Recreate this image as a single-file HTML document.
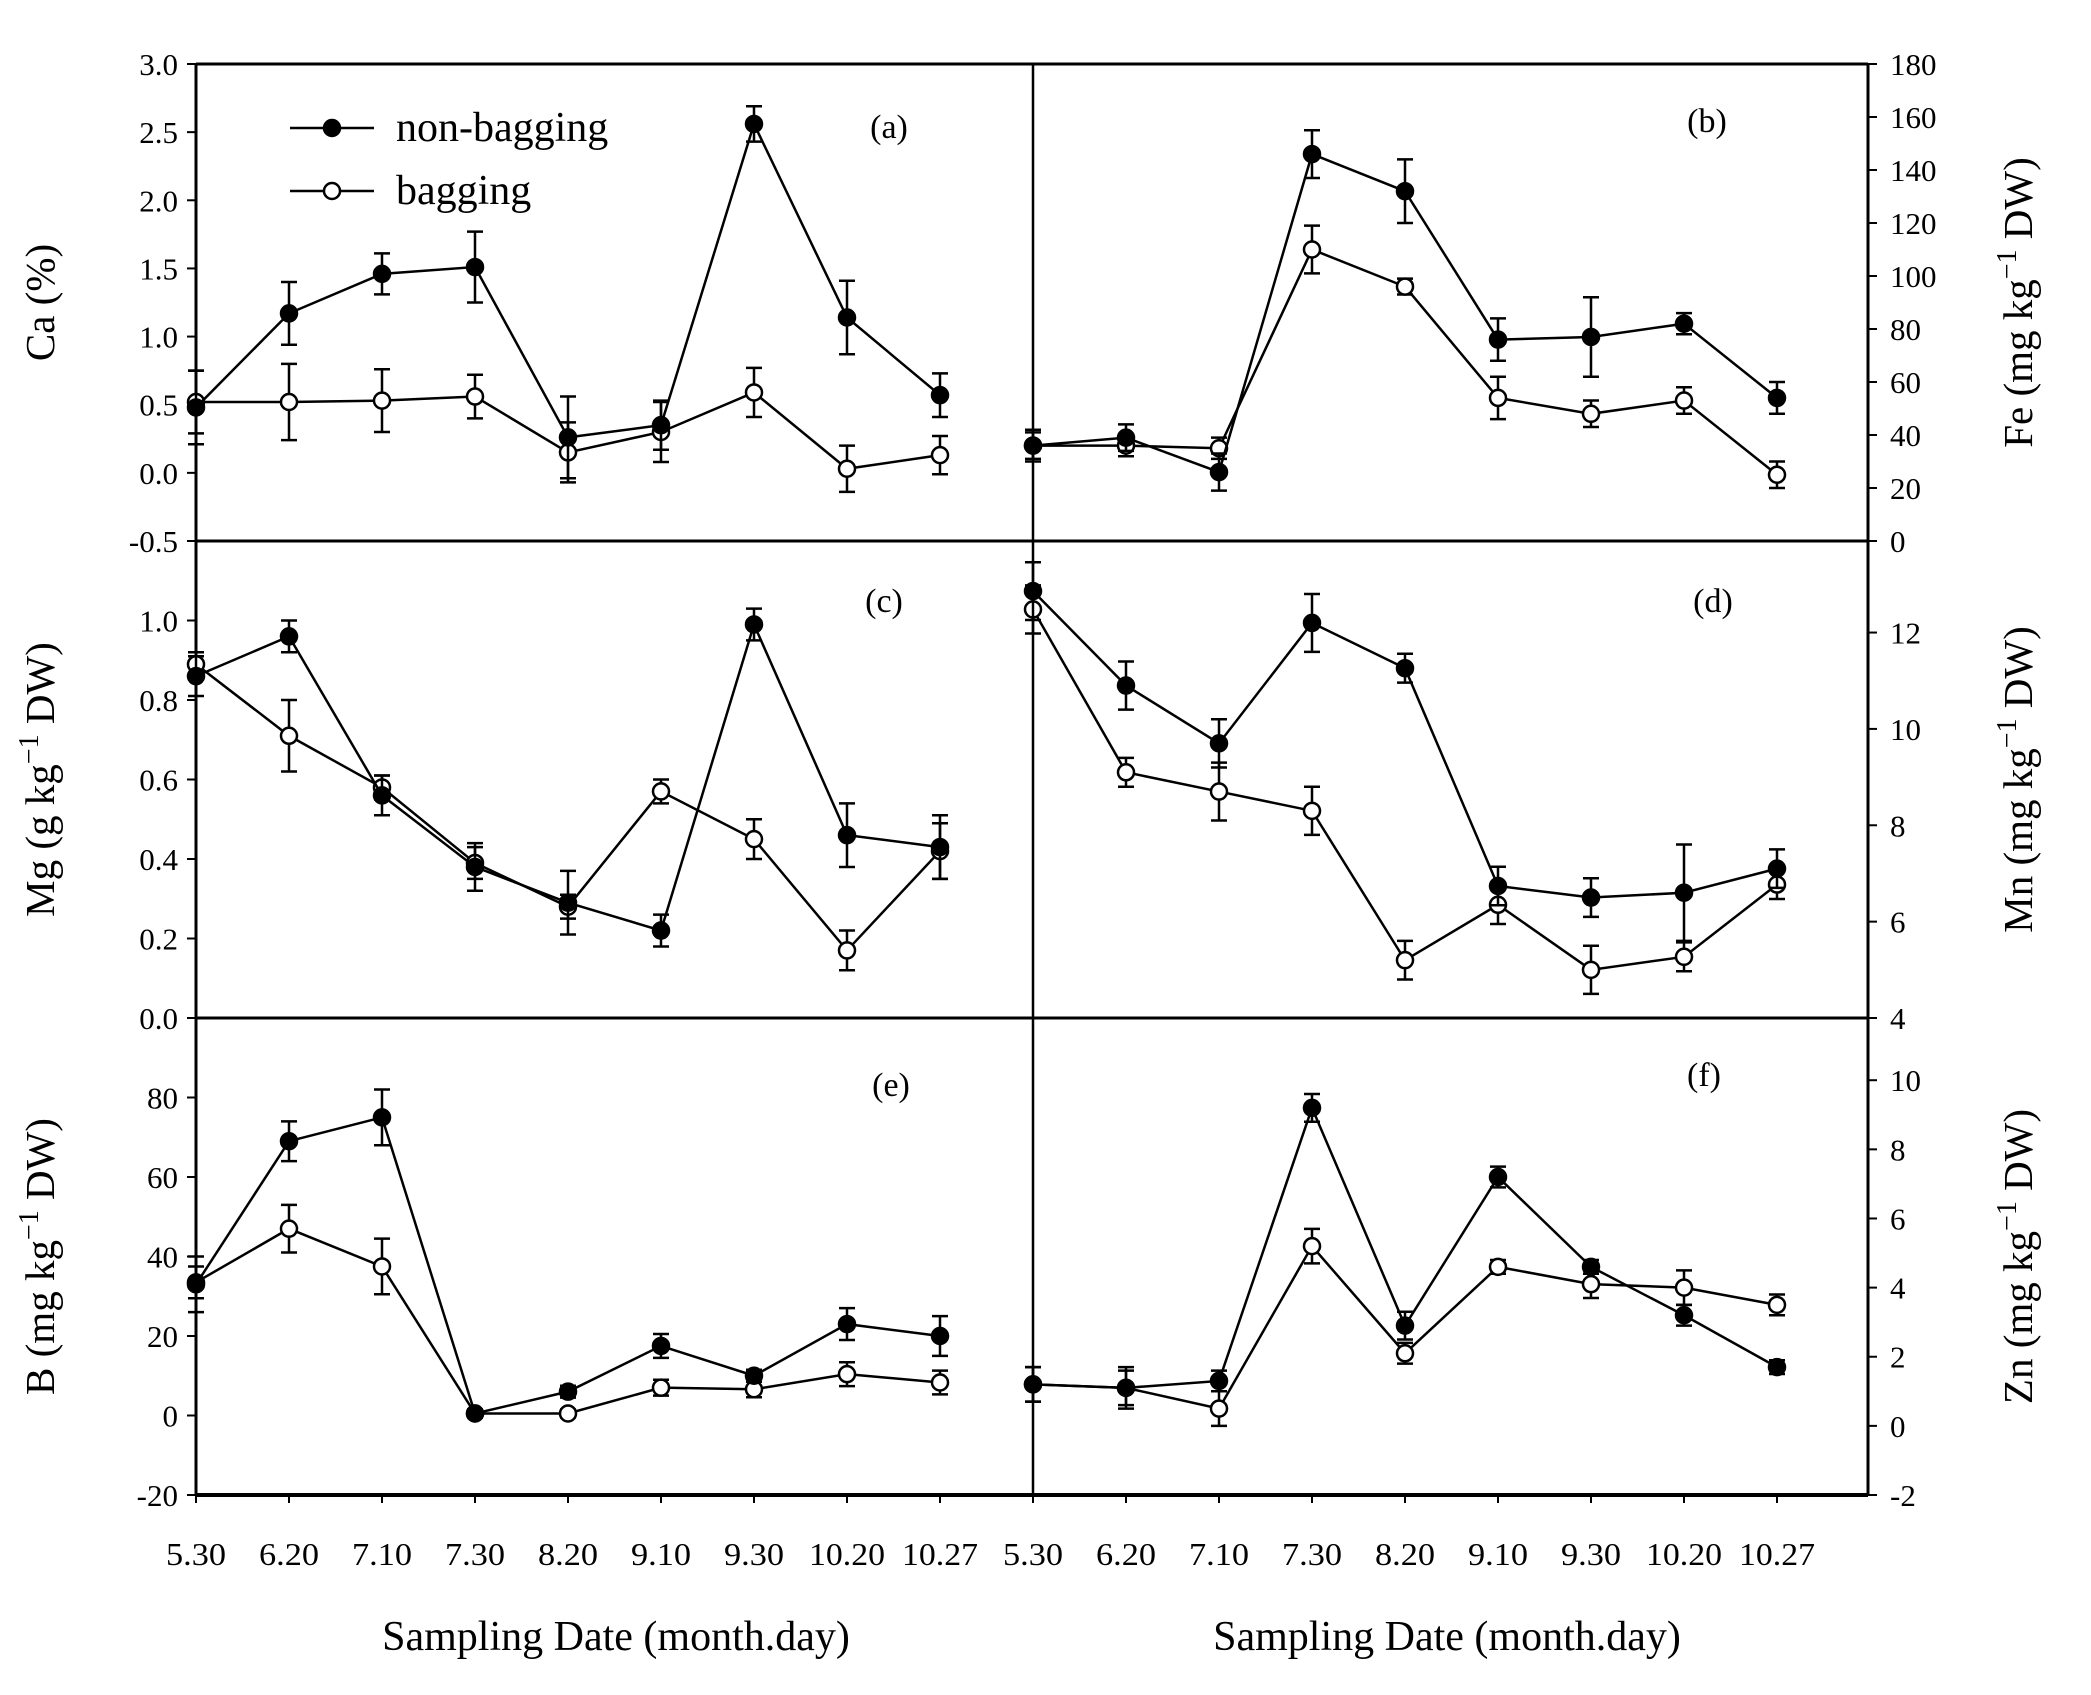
<!DOCTYPE html>
<html><head><meta charset="utf-8"><style>
html,body{margin:0;padding:0;background:#fff}
svg{display:block;font-family:"Liberation Serif",serif}
</style></head><body>
<svg id="chart" width="2091" height="1695" viewBox="0 0 2091 1695" xmlns="http://www.w3.org/2000/svg"></svg>
<script>
const dates = ["5.30","6.20","7.10","7.30","8.20","9.10","9.30","10.20","10.27"];
const caNon = [0.48,1.17,1.46,1.51,0.26,0.35,2.56,1.14,0.57];
const caNonErr = [0.27,0.23,0.15,0.26,0.30,0.18,0.13,0.27,0.16];
const caBag = [0.52,0.52,0.53,0.56,0.15,0.30,0.59,0.03,0.13];
const caBagErr = [0.23,0.28,0.23,0.16,0.22,0.22,0.18,0.17,0.14];
const feNon = [36,39,26,146,132,76,77,82,54];
const feNonErr = [6,5,7,9,12,8,15,4,6];
const feBag = [36,36,35,110,96,54,48,53,25];
const feBagErr = [5,4,4,9,3,8,5,5,5];
const mgNon = [0.86,0.96,0.56,0.38,0.29,0.22,0.99,0.46,0.43];
const mgNonErr = [0.05,0.04,0.05,0.06,0.08,0.04,0.04,0.08,0.08];
const mgBag = [0.89,0.71,0.58,0.39,0.28,0.57,0.45,0.17,0.42];
const mgBagErr = [0.03,0.09,0.03,0.04,0.03,0.03,0.05,0.05,0.07];
const mnNon = [12.86,10.9,9.7,12.2,11.26,6.74,6.5,6.6,7.1];
const mnNonErr = [0.6,0.5,0.5,0.6,0.3,0.4,0.4,1.0,0.4];
const mnBag = [12.48,9.1,8.7,8.3,5.2,6.35,5.0,5.27,6.77];
const mnBagErr = [0.5,0.3,0.6,0.5,0.4,0.4,0.5,0.3,0.3];
const bNon = [33,69,75,0.5,6,17.5,10,23,20];
const bNonErr = [7,5,7,1,1.5,3,1.5,4,5];
const bBag = [33.5,47,37.5,0.5,0.5,7,6.6,10.4,8.3];
const bBagErr = [4,6,7,1,1,2,2,3,3];
const znNon = [1.2,1.1,1.3,9.2,2.9,7.2,4.6,3.2,1.7];
const znNonErr = [0.5,0.6,0.3,0.4,0.4,0.3,0.2,0.3,0.2];
const znBag = [1.2,1.1,0.5,5.2,2.1,4.6,4.1,4.0,3.5];
const znBagErr = [0.5,0.5,0.5,0.5,0.3,0.2,0.4,0.5,0.3];
const caTicks = [-0.5,0,0.5,1,1.5,2,2.5,3];
const feTicks = [0,20,40,60,80,100,120,140,160,180];
const mgTicks = [0,0.2,0.4,0.6,0.8,1.0];
const mnTicks = [4,6,8,10,12];
const bTicks = [-20,0,20,40,60,80];
const znTicks = [-2,0,2,4,6,8,10];

const svg = document.getElementById('chart');
const NS = 'http://www.w3.org/2000/svg';
function mk(tag, attrs, parent){const e=document.createElementNS(NS,tag);for(const k in attrs)e.setAttribute(k,attrs[k]);(parent||svg).appendChild(e);return e;}

const XL=196, XM=1033, XR=1868, STEP=93;
const rows=[64,541,1018,1495];

let f;
f=mk('line',{x1:XL,y1:rows[0],x2:XR,y2:rows[0],stroke:'#000','stroke-width':3});


f=mk('line',{x1:XL,y1:rows[0],x2:XL,y2:rows[3],stroke:'#000','stroke-width':3});


f=mk('line',{x1:XR,y1:rows[0],x2:XR,y2:rows[3],stroke:'#000','stroke-width':3});


f=mk('line',{x1:XM,y1:rows[0],x2:XM,y2:rows[3],stroke:'#000','stroke-width':2.5});


for(let r=1;r<4;r++){
  f=mk('line',{x1:XL,y1:rows[r],x2:XR,y2:rows[r],stroke:'#000','stroke-width':r==3?4:3});
  
  
}
[XL,XM].forEach((x0,pi)=>{
  dates.forEach((d,i)=>{
    const x=x0+i*STEP;
    let t=mk('line',{x1:x,y1:rows[3],x2:x,y2:rows[3]+8,stroke:'#000','stroke-width':2});
    
    
    let tx=mk('text',{x:x,y:1565,'font-size':32,'text-anchor':'middle','textLength':d.length>4?76:60,'lengthAdjust':'spacingAndGlyphs'});
    tx.textContent=d;
    
    
  });
  let tt=mk('text',{x:pi?1447:616,y:1650,'font-size':42,'text-anchor':'middle'});
  tt.textContent='Sampling Date (month.day)';
  
  
});

function panel(name,col,row,min,max,ticks,dec,non,nonE,bag,bagE,label,title,lab){
  const y0=rows[row], y1=rows[row+1];
  const ys=v=>y1-(v-min)/(max-min)*(y1-y0);
  const x0=col?XM:XL;
  const xs=i=>x0+i*STEP;
  const g=mk('g',{});
  
  
  ticks.forEach(v=>{
    const y=ys(v);
    const ax=col?XR:XL;
    let t=mk('line',{x1:ax,y1:y,x2:col?ax+9:ax-9,y2:y,stroke:'#000','stroke-width':2},g);
    
    
    let tx=mk('text',{x:col?ax+22:ax-18,y:y+11,'font-size':31,'text-anchor':col?'start':'end'},g);
    tx.textContent=dec?v.toFixed(dec):String(v);
    
    
  });
  [[bag,bagE,'#fff','bagging'],[non,nonE,'#000','non-bagging']].forEach(([vals,errs,fill,sn])=>{
    const sg=mk('g',{},g);
    
    
    const pts=vals.map((v,i)=>xs(i)+','+ys(v)).join(' ');
    let pl=mk('polyline',{points:pts,fill:'none',stroke:'#000','stroke-width':2.5},sg);
    
    
    vals.forEach((v,i)=>{
      const x=xs(i),yt=ys(v+errs[i]),yb=ys(v-errs[i]);
      let e=mk('path',{d:`M${x},${yt}V${yb}M${x-8},${yt}H${x+8}M${x-8},${yb}H${x+8}`,stroke:'#000','stroke-width':2.5,fill:'none'},sg);
      
      
    });
    vals.forEach((v,i)=>{
      let c=mk('circle',{cx:xs(i),cy:ys(v),r:8,fill:fill,stroke:'#000','stroke-width':2.5},sg);
      
      
    });
  });
  let pl=mk('text',{x:lab[0],y:lab[1],'font-size':34,'text-anchor':'middle'},g);
  pl.textContent=label;
  
  
  const tx=col?2032:54, ty=(y0+y1)/2;
  let at=mk('text',{x:tx,y:ty,'font-size':41,'text-anchor':'middle',transform:`rotate(-90 ${tx} ${ty})`},g);
  at.innerHTML=title;
  
  
}
const unit=(el,u)=>`${el} (${u} kg<tspan font-size="28" dy="-16">−1</tspan><tspan dy="16"> DW)</tspan>`;
panel('ca',0,0,-0.5,3.0,caTicks,1,caNon,caNonErr,caBag,caBagErr,'(a)','Ca (%)',[889,138]);
panel('fe',1,0,0,180,feTicks,0,feNon,feNonErr,feBag,feBagErr,'(b)',unit('Fe','mg'),[1707,132]);
panel('mg',0,1,0,1.2,mgTicks,1,mgNon,mgNonErr,mgBag,mgBagErr,'(c)',unit('Mg','g'),[884,612]);
panel('mn',1,1,4,13.9,mnTicks,0,mnNon,mnNonErr,mnBag,mnBagErr,'(d)',unit('Mn','mg'),[1713,612]);
panel('b',0,2,-20,100,bTicks,0,bNon,bNonErr,bBag,bBagErr,'(e)',unit('B','mg'),[891,1096]);
panel('zn',1,2,-2,11.8,znTicks,0,znNon,znNonErr,znBag,znBagErr,'(f)',unit('Zn','mg'),[1704,1086]);

const lg=mk('g',{});


[['non-bagging','#000',128],['bagging','#fff',191]].forEach(([n,fill,y])=>{
  const e=mk('g',{},lg);
  
  
  mk('line',{x1:290,y1:y,x2:374,y2:y,stroke:'#000','stroke-width':2.5},e);
  mk('circle',{cx:332,cy:y,r:8,fill:fill,stroke:'#000','stroke-width':2.5},e);
  const t=mk('text',{x:396,y:y+13,'font-size':42},e);
  t.textContent=n;
});
</script>
</body></html>
